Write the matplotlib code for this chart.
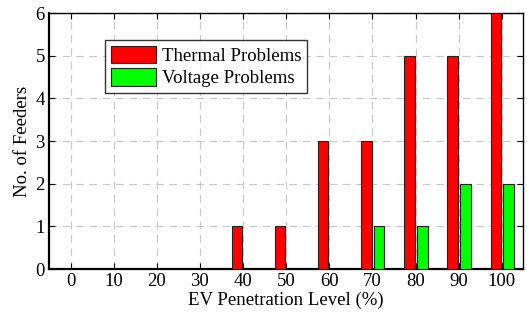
import numpy as np
import matplotlib
matplotlib.use("Agg")
import matplotlib.pyplot as plt

plt.rcParams['font.family'] = ['Liberation Serif', 'DejaVu Serif']
plt.rcParams['font.size'] = 13.5

# EV penetration levels and problem counts
levels = [0, 10, 20, 30, 40, 50, 60, 70, 80, 90, 100]
thermal = [0, 0, 0, 0, 1, 1, 3, 3, 5, 5, 6]
voltage = [0, 0, 0, 0, 0, 0, 0, 1, 1, 2, 2]

fig = plt.figure(figsize=(5.27, 3.18), dpi=100)
ax = fig.add_axes([0.093, 0.154, 0.9, 0.805])

x = np.array(levels)
w = 2.4
ax.bar(x - 1.4, thermal, w, color="#ff0000", edgecolor="#222222", linewidth=0.8,
       label="Thermal Problems", zorder=3)
ax.bar(x + 1.6, voltage, w, color="#00ff00", edgecolor="#222222", linewidth=0.8,
       label="Voltage Problems", zorder=3)

ax.set_xlim(-5, 105)
ax.set_ylim(0, 6)
ax.set_xticks(levels)
ax.set_yticks(range(7))
ax.tick_params(direction="in", top=True, right=True, length=4, width=0.8, pad=3)
ax.grid(True, color="#c8c8c8", linestyle=(0, (7, 5)), linewidth=0.8, zorder=0)
for s in ax.spines.values():
    s.set_linewidth(1.0)
ax.spines['bottom'].set_linewidth(1.6)
ax.spines['left'].set_linewidth(1.6)

ax.set_xlabel("EV Penetration Level (%)", labelpad=1)
ax.set_ylabel("No. of Feeders", labelpad=3)

leg = ax.legend(loc="upper left", bbox_to_anchor=(0.118, 0.895), frameon=True,
                fancybox=False, edgecolor="black", handlelength=2.4,
                handleheight=1.05, borderpad=0.3, labelspacing=0.2,
                handletextpad=0.35, borderaxespad=0)
leg.get_frame().set_linewidth(1.0)

fig.savefig("out.png", dpi=100)
